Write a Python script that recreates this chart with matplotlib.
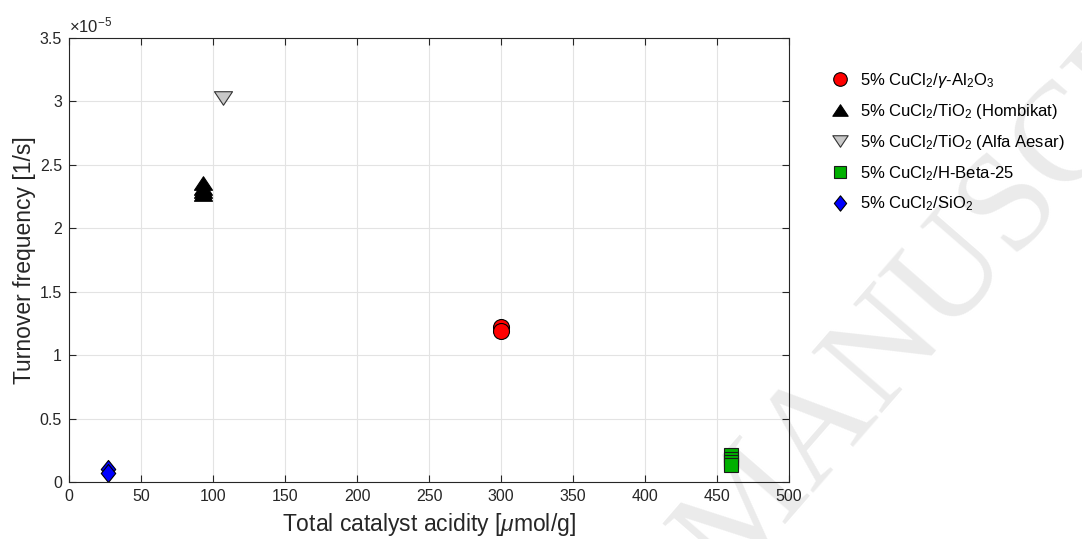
import numpy as np
import matplotlib
matplotlib.use('Agg')
import matplotlib.pyplot as plt
from matplotlib.path import Path
from matplotlib.ticker import FuncFormatter

plt.rcParams['font.family'] = ['Liberation Sans', 'DejaVu Sans']
plt.rcParams['mathtext.fontset'] = 'custom'
plt.rcParams['mathtext.rm'] = 'Liberation Sans'
plt.rcParams['mathtext.it'] = 'Liberation Sans:italic'

# Данные: кислотность катализатора [мкмоль/г] и TOF [1/с]
al2o3_x = [300, 300]
al2o3_y = [1.22e-5, 1.19e-5]
tio2_h_x = [93, 93, 93, 93]
tio2_h_y = [2.36e-5, 2.32e-5, 2.29e-5, 2.27e-5]
tio2_a_x = [107]
tio2_a_y = [3.03e-5]
beta_x = [460, 460, 460, 460]
beta_y = [0.21e-5, 0.18e-5, 0.16e-5, 0.13e-5]
sio2_x = [27, 27]
sio2_y = [0.10e-5, 0.07e-5]

labels = [r'5% CuCl$_2$/$\gamma$-Al$_2$O$_3$',
          r'5% CuCl$_2$/TiO$_2$ (Hombikat)',
          r'5% CuCl$_2$/TiO$_2$ (Alfa Aesar)',
          r'5% CuCl$_2$/H-Beta-25',
          r'5% CuCl$_2$/SiO$_2$']

# Маркеры в стиле MATLAB (треугольники шире, чем выше)
tri_up = Path([(0, 0.75), (1, -0.75), (-1, -0.75), (0, 0.75)], closed=True)
tri_dn = Path([(0, -0.75), (1, 0.75), (-1, 0.75), (0, -0.75)], closed=True)
diamond = Path([(0, 1), (0.8, 0), (0, -1), (-0.8, 0), (0, 1)], closed=True)

fig = plt.figure(figsize=(10.82, 5.39), dpi=100)

# Водяной знак
fig.text(0.695, -0.12, 'MANUSCRIPT', fontsize=102,
         family='Liberation Serif', color='#ebebeb', rotation=49,
         ha='left', va='bottom', zorder=-5, rotation_mode='anchor')

ax = fig.add_axes([0.0638, 0.1058, 0.7292 - 0.0638, 0.9295 - 0.1058])
ax.set_facecolor('none')

ax.plot(al2o3_x, al2o3_y, ls='none', marker='o', ms=11.5, mfc='#ff0000', mec='k', mew=0.8, label=labels[0])
ax.plot(tio2_h_x, tio2_h_y, ls='none', marker=tri_up, ms=13, mfc='k', mec='k', mew=0.8, label=labels[1])
ax.plot(tio2_a_x, tio2_a_y, ls='none', marker=tri_dn, ms=13, mfc='#c8c8c8', mec='#333333', mew=0.8, label=labels[2])
ax.plot(beta_x, beta_y, ls='none', marker='s', ms=9.5, mfc='#00b000', mec='#1a1a1a', mew=0.8, label=labels[3])
ax.plot(sio2_x, sio2_y, ls='none', marker=diamond, ms=13, mfc='#0000ff', mec='k', mew=0.8, label=labels[4])

ax.set_xlim(0, 500)
ax.set_ylim(0, 3.5e-5)
ax.set_xticks(np.arange(0, 501, 50))
ax.set_yticks(np.arange(0, 3.51e-5, 0.5e-5))
ax.yaxis.set_major_formatter(FuncFormatter(lambda v, p: f'{v / 1e-5:g}'))
ax.text(0.0, 1.006, r'$\times$10$^{\mathregular{-5}}$', transform=ax.transAxes,
        fontsize=12, color='#262626', ha='left', va='bottom')

ax.tick_params(direction='in', top=True, right=True, length=5, width=0.8,
               labelsize=11.5, colors='#262626', pad=5)
for s in ax.spines.values():
    s.set_color('#262626')
    s.set_linewidth(0.8)
ax.grid(True, color='#e3e3e3', linewidth=0.8)
ax.set_axisbelow(True)

ax.set_xlabel(r'Total catalyst acidity [$\mu$mol/g]', fontsize=16.5, color='#262626', labelpad=5)
ax.set_ylabel('Turnover frequency [1/s]', fontsize=16.5, color='#262626', labelpad=3)

fig.legend(loc='upper left', bbox_to_anchor=(0.753, 0.896), frameon=False,
           fontsize=12, handlelength=1.2, handletextpad=0.6, labelspacing=0.72,
           markerscale=0.85)

plt.savefig('out.png', dpi=100)
